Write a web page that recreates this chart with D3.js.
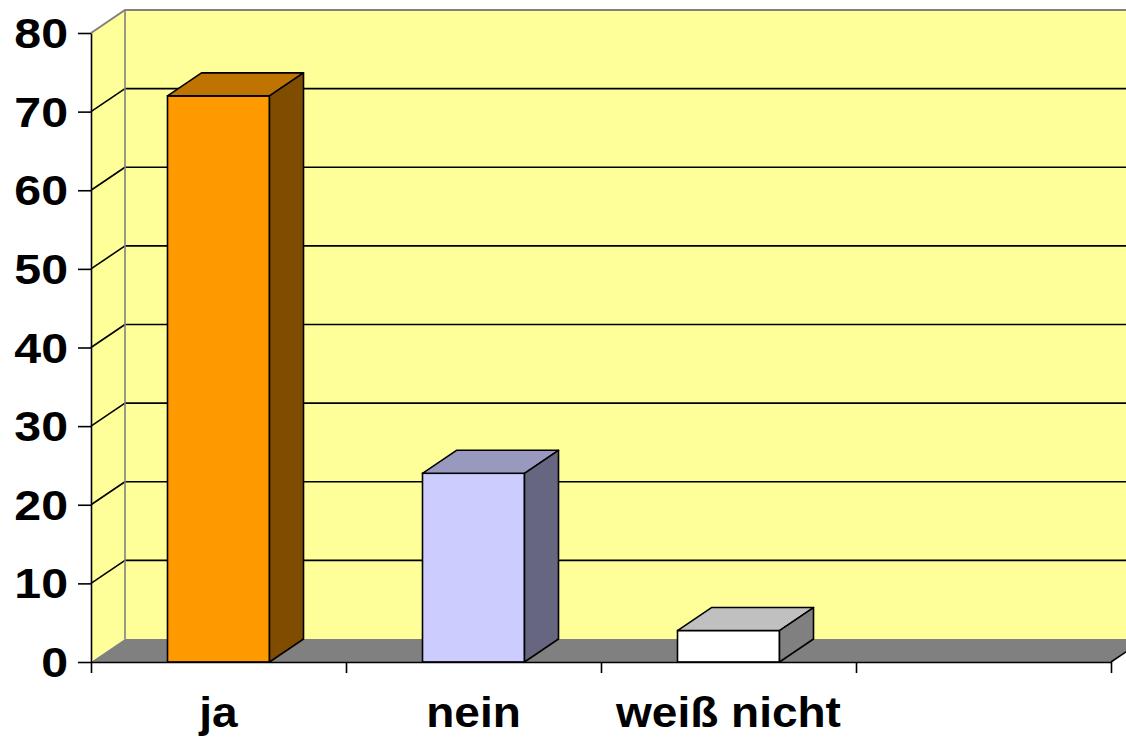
<!DOCTYPE html>
<html>
<head>
<meta charset="utf-8">
<script src="https://cdn.jsdelivr.net/npm/d3@7"></script>
<style>
  body { margin: 0; background: #fff; }
  text { font-family: "Liberation Sans", Arial, sans-serif; font-weight: bold; fill: #000; }
</style>
</head>
<body>
<svg></svg>
<script>
var width = 1126;
var height = 737;

// data
var categories = ["ja", "nein", "weiß nicht", ""];
var values = [72, 24, 4];
var yTicks = [0, 10, 20, 30, 40, 50, 60, 70, 80];
var frontColors = ["#FF9900", "#CCCCFF", "#FFFFFF"];
var topColors = ["#BF7300", "#9999BF", "#C0C0C0"];
var sideColors = ["#804D00", "#666680", "#808080"];

// 3d depth offset
var dx = 34, dy = 23;

var x = d3.scaleBand()
          .domain(categories)
          .range([91, 1111])
          .paddingInner(0.6)
          .paddingOuter(0.3);

var xEdge = d3.scaleLinear()
          .domain([0, categories.length])
          .range([91, 1111]);

var y = d3.scaleLinear()
          .domain([0, 80])
          .range([662, 33]);

var svg = d3.select("svg")
            .attr("width", width)
            .attr("height", height);

var x0 = xEdge(0), x1 = xEdge(categories.length);
var yTop = y(80), yBase = y(0);

// back wall
svg.append("rect")
    .attr("x", x0 + dx)
    .attr("y", yTop - dy)
    .attr("width", x1 - x0 + 10)
    .attr("height", yBase - yTop)
    .attr("fill", "#FFFF99");

// side wall
svg.append("polygon")
    .attr("points", [[x0, yBase], [x0, yTop], [x0 + dx, yTop - dy], [x0 + dx, yBase - dy]].join(" "))
    .attr("fill", "#FFFF99");

// gridlines on back and side wall
var grid = svg.append("g").classed("grid", true);
grid.selectAll(".back")
    .data(yTicks.filter(d => d > 0 && d < 80))
    .enter().append("line")
        .attr("x1", x0 + dx)
        .attr("x2", x1 + dx + 10)
        .attr("y1", d => y(d) - dy)
        .attr("y2", d => y(d) - dy)
        .attr("stroke", "#000")
        .attr("stroke-width", 1.6);
grid.selectAll(".side")
    .data(yTicks.filter(d => d > 0 && d < 80))
    .enter().append("line")
        .attr("x1", x0)
        .attr("x2", x0 + dx)
        .attr("y1", d => y(d))
        .attr("y2", d => y(d) - dy)
        .attr("stroke", "#000")
        .attr("stroke-width", 1.6);

// gray wall edges
svg.append("path")
    .attr("d", "M" + x0 + "," + yTop + "L" + (x0 + dx) + "," + (yTop - dy) + "L" + (x1 + dx + 10) + "," + (yTop - dy))
    .attr("fill", "none")
    .attr("stroke", "#808080")
    .attr("stroke-width", 2);
svg.append("line")
    .attr("x1", x0 + dx).attr("x2", x0 + dx)
    .attr("y1", yTop - dy).attr("y2", yBase - dy)
    .attr("stroke", "#808080")
    .attr("stroke-width", 1.6);

// floor
svg.append("polygon")
    .attr("points", [[x0, yBase], [x0 + dx, yBase - dy], [x1 + dx, yBase - dy], [x1, yBase]].join(" "))
    .attr("fill", "#808080");
svg.append("line")
    .attr("x1", x1).attr("y1", yBase)
    .attr("x2", x1 + dx).attr("y2", yBase - dy)
    .attr("stroke", "#000")
    .attr("stroke-width", 1.6);

// bars
var bars = svg.append("g").classed("bars", true)
    .selectAll("g")
    .data(values)
    .enter().append("g");

var bw = x.bandwidth();
bars.append("rect")
    .attr("x", (d, i) => x(categories[i]))
    .attr("y", d => y(d))
    .attr("width", bw)
    .attr("height", d => yBase - y(d))
    .attr("fill", (d, i) => frontColors[i])
    .attr("stroke", "#000")
    .attr("stroke-width", 1.6);

bars.append("polygon")
    .attr("points", (d, i) => {
        var bx = x(categories[i]), by = y(d);
        return [[bx, by], [bx + dx, by - dy], [bx + bw + dx, by - dy], [bx + bw, by]].join(" ");
    })
    .attr("fill", (d, i) => topColors[i])
    .attr("stroke", "#000")
    .attr("stroke-width", 1.6)
    .attr("stroke-linejoin", "round");

bars.append("polygon")
    .attr("points", (d, i) => {
        var bx = x(categories[i]) + bw, by = y(d);
        return [[bx, by], [bx + dx, by - dy], [bx + dx, yBase - dy], [bx, yBase]].join(" ");
    })
    .attr("fill", (d, i) => sideColors[i])
    .attr("stroke", "#000")
    .attr("stroke-width", 1.6)
    .attr("stroke-linejoin", "round");

// y axis
var yAxis = svg.append("g")
    .attr("transform", "translate(" + x0 + ",0)")
    .call(d3.axisLeft(y).tickValues(yTicks).tickSize(13).tickSizeOuter(0).tickFormat(""));
yAxis.selectAll("line, path").attr("stroke", "#000").attr("stroke-width", 1.6);

svg.append("g").classed("ylabels", true)
    .selectAll("text")
    .data(yTicks)
    .enter().append("text")
        .attr("transform", d => "translate(68," + (y(d) + 15) + ") scale(1.15,1)")
        .attr("text-anchor", "end")
        .style("font-size", "42px")
        .text(d => d);

// x axis
var xAxis = svg.append("g")
    .attr("transform", "translate(0," + yBase + ")")
    .call(d3.axisBottom(xEdge).tickValues(d3.range(categories.length + 1)).tickSize(11).tickSizeOuter(0).tickFormat(""));
xAxis.selectAll("line, path").attr("stroke", "#000").attr("stroke-width", 1.6);

svg.append("g").classed("xlabels", true)
    .selectAll("text")
    .data(categories.filter(d => d !== ""))
    .enter().append("text")
        .attr("transform", d => "translate(" + (x(d) + bw / 2) + ",726.5) scale(1.07,1)")
        .attr("text-anchor", "middle")
        .style("font-size", "43px")
        .text(d => d);
</script>
</body>
</html>
